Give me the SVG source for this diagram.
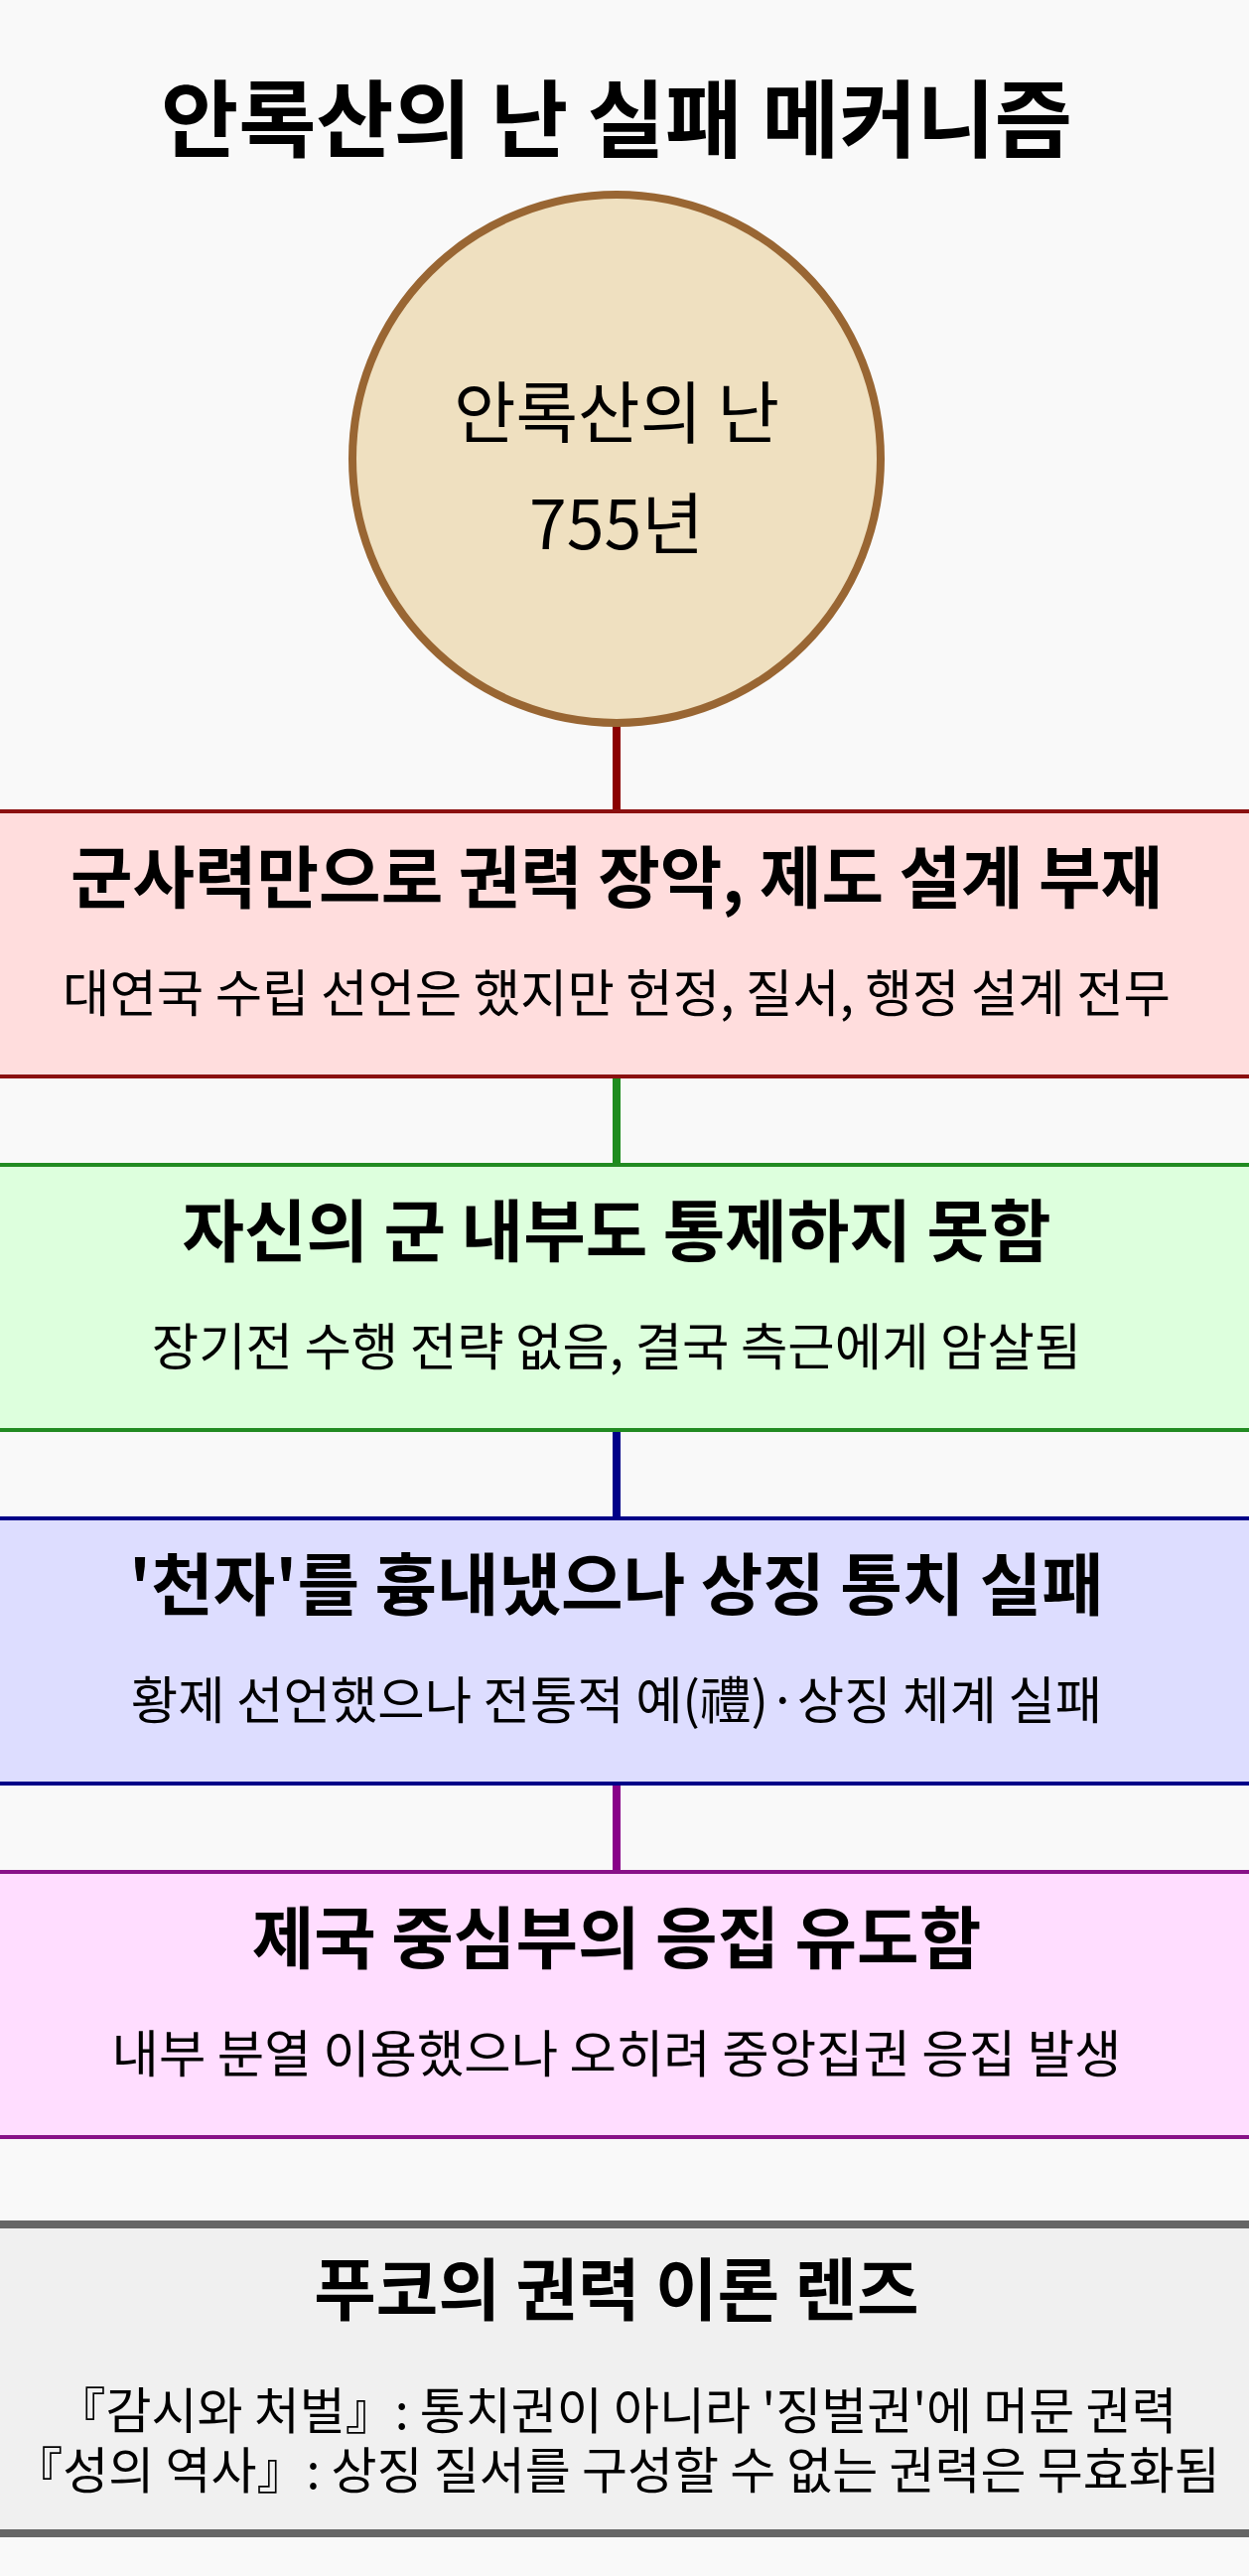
<svg xmlns="http://www.w3.org/2000/svg" width="1258" height="2594" viewBox="0 0 1258 2594">
<style>
text{font-family:"Noto Sans CJK KR","Noto Sans",sans-serif;fill:#000;text-anchor:middle}
.h{font-weight:700;font-size:68px}
.s{font-size:51.5px}
.f{font-size:50px}
.box{stroke-width:4}
.conn{stroke-width:8;fill:none}
</style>
<rect x="0" y="0" width="1258" height="2594" fill="#F9F9F9"/>
<g id="title"><text x="621" y="152" style="font-weight:700;font-size:85px">안록산의 난 실패 메커니즘</text></g>
<g id="connectors">
<line class="conn" x1="621" y1="730" x2="621" y2="817" stroke="#8B0000"/>
<line class="conn" x1="621" y1="1084" x2="621" y2="1173" stroke="#1E8C1E"/>
<line class="conn" x1="621" y1="1440" x2="621" y2="1529" stroke="#000088"/>
<line class="conn" x1="621" y1="1796" x2="621" y2="1885" stroke="#880088"/>
</g>
<g id="origin">
<circle cx="621" cy="462" r="266" fill="#EFE0C0" stroke="#996633" stroke-width="8"/>
<text x="621" y="441" style="font-size:68px">안록산의 난</text>
<text x="621" y="553" style="font-size:68px">755년</text>
</g>
<g id="step1">
<rect class="box" x="-20" y="817" width="1298" height="267" fill="#FFDDDD" stroke="#8B1010"/>
<text class="h" x="621" y="909">군사력만으로 권력 장악, 제도 설계 부재</text>
<text class="s" x="621" y="1019">대연국 수립 선언은 했지만 헌정, 질서, 행정 설계 전무</text>
</g>
<g id="step2">
<rect class="box" x="-20" y="1173" width="1298" height="267" fill="#DDFFDD" stroke="#228B22"/>
<text class="h" x="621" y="1265">자신의 군 내부도 통제하지 못함</text>
<text class="s" x="621" y="1375">장기전 수행 전략 없음, 결국 측근에게 암살됨</text>
</g>
<g id="step3">
<rect class="box" x="-20" y="1529" width="1298" height="267" fill="#DDDDFF" stroke="#000088"/>
<text class="h" x="621" y="1621">'천자'를 흉내냈으나 상징 통치 실패</text>
<text class="s" x="621" y="1731">황제 선언했으나 전통적 예(禮)·상징 체계 실패</text>
</g>
<g id="step4">
<rect class="box" x="-20" y="1885" width="1298" height="267" fill="#FFDDFF" stroke="#881188"/>
<text class="h" x="621" y="1977">제국 중심부의 응집 유도함</text>
<text class="s" x="621" y="2087">내부 분열 이용했으나 오히려 중앙집권 응집 발생</text>
</g>
<g id="lens">
<rect x="-20" y="2240" width="1298" height="311" fill="#F0F0F0" stroke="#666666" stroke-width="8"/>
<text class="h" x="621" y="2331">푸코의 권력 이론 렌즈</text>
<text class="f" x="621" y="2446">『감시와 처벌』: 통치권이 아니라 '징벌권'에 머문 권력</text>
<text class="f" x="621" y="2506">『성의 역사』: 상징 질서를 구성할 수 없는 권력은 무효화됨</text>
</g>
</svg>
